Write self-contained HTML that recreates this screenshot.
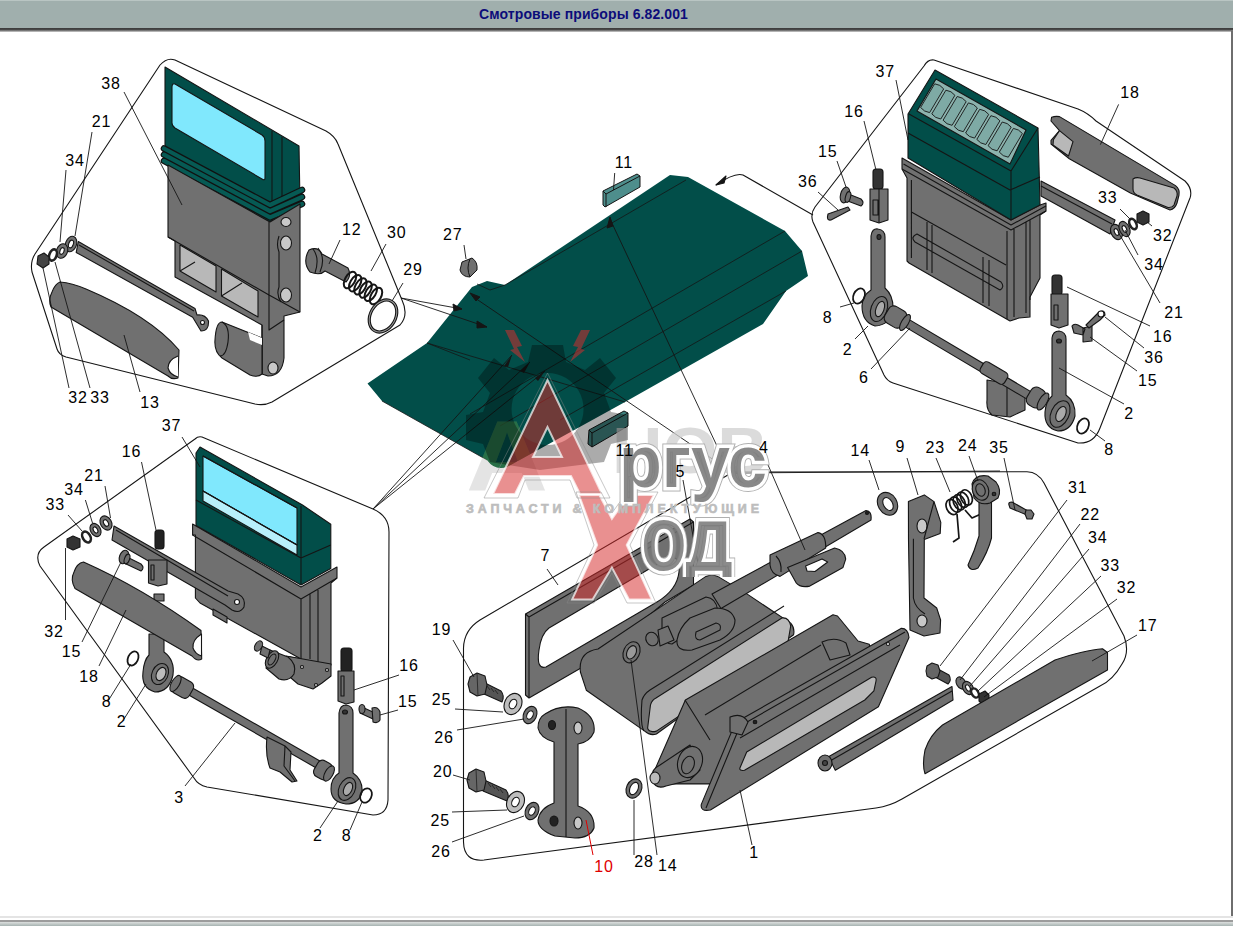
<!DOCTYPE html>
<html><head><meta charset="utf-8">
<style>
html,body{margin:0;padding:0;width:1233px;height:926px;overflow:hidden;background:#fff;}
#bar{position:absolute;left:0;top:0;width:1233px;height:28px;background:#a0afad;border-top:1px solid #b9c5c3;box-sizing:border-box;}
#bar span{position:absolute;left:479px;top:5px;font:bold 14px "Liberation Sans",sans-serif;color:#0c0c7a;letter-spacing:0.1px;white-space:nowrap;}
#barline{position:absolute;left:0;top:28px;width:1233px;height:4px;background:linear-gradient(#3a3a3a,#4a4a4a 45%,#8a8a8a 70%,#d0d0d0);}
svg{position:absolute;left:0;top:0;}
</style></head><body>
<div id="bar"><span>Смотровые приборы 6.82.001</span></div>
<div id="barline"></div>
<svg width="1233" height="926" viewBox="0 0 1233 926" font-family="Liberation Sans, sans-serif">
<!-- frame -->
<rect x="1231" y="31" width="2" height="886" fill="#6e6e6e"/>
<rect x="0" y="916" width="1233" height="2" fill="#e4e4e4"/>
<rect x="0" y="918" width="1233" height="2" fill="#ffffff"/>
<rect x="0" y="920" width="1233" height="2" fill="#9c9c9c"/>
<defs><linearGradient id="bg1" x1="0" y1="0" x2="0" y2="1"><stop offset="0" stop-color="#dcdfde"/><stop offset="1" stop-color="#a6b3b1"/></linearGradient></defs>
<rect x="0" y="922" width="1233" height="4" fill="url(#bg1)"/>


<!-- ===== CENTRAL BODY ===== -->
<g id="E" stroke="#151515" stroke-width="1" stroke-linejoin="round">
<path fill="#024e49" stroke="none" d="M367.5,383.5 L427,343 L472,287 L487,281 L505,285 L670,175 L688,177 L785,231 L802,251 L808,276 L786,291 L763,324 L625,402 L507,467 Q495,471 487,460 L382,401 Z"/>
<path fill="none" stroke-width="0.8" d="M477,284 L490,290 L505,285 M505,285 L686,180 M427,343 L625,402 M382,401 L487,460 M785,231 L470,414 M802,251 L500,426 M786,291 L560,420 M427,343 L470,360"/>
<path fill="none" stroke-width="0.9" d="M610,219 L733,480 M472,296 L733,473 M733,473 L1000,471"/>
<path fill="#151515" d="M610,217 L607,228 L613,226 Z M470,293 L480,297 L476,301 Z"/>
<!-- part 11 top -->
<path fill="#4e8e8c" d="M603,191 L637,174 L640,176 L640,187 L605,207 L603,205 Z"/>
<path fill="none" d="M603,191 L606,194 L640,176 M606,194 L606,207"/>
<path fill="none" stroke-width="0.9" d="M614.7,173 L613.5,190"/>
<!-- part 27 -->
<path fill="#707070" d="M462,262 L472,258 Q478,262 477,270 L470,277 Q462,277 460,270 Z"/>
<path fill="none" d="M470,259 Q466,268 470,277"/>
<path fill="none" stroke-width="0.9" d="M464,245 L466,259"/>
<!-- arrows from group A -->
<path fill="none" stroke-width="0.9" d="M401,298 L462,309 M401,298 L487,327"/>
<path fill="#151515" d="M462,309 L453,304 L454,311 Z M487,327 L477,321 L477,328 Z"/>
<!-- part 11 lower -->
<path fill="#3f7f7d" d="M589,430 L624,411 L628,413 L628,426 L592,447 L588,444 Z"/>
<path fill="none" d="M589,430 L592,433 L628,413 M592,433 L592,447"/>
</g>
<!-- ===== GROUP A (top-left) ===== -->
<g id="A" stroke="#151515" stroke-width="1.1" stroke-linejoin="round">
<path fill="none" d="M175,60 L326,131 Q335,136 338,144 L402,300 Q409,315 400,325 L272,402 Q264,406 255,404 L66,357 Q59,355 57,349 L32,272 Q30,262 35,254 L160,65 Q167,57 175,60 Z"/>
<!-- box 38 teal -->
<path fill="#024e49" d="M165,67 L299,146 L300,204 L270,222 L165,163 Z"/>
<path fill="#80e8fd" d="M175,84 L262,135 Q265,137 265,141 L265,178 Q265,181 262,179 L175,128 Q172,126 172,123 L172,87 Q172,83 175,84 Z"/>
<path fill="none" d="M272,131 L272,222 M282,137 L282,216"/>
<path fill="none" stroke="#111" stroke-width="6.6" stroke-linecap="round" d="M164,148.5 L270,205.0 L302,190.0 M164,154.7 L270,211.2 L302,197.0 M164,160.9 L270,217.4 L302,204.0"/>
<path fill="none" stroke="#065a54" stroke-width="4.2" stroke-linecap="round" d="M164,148.5 L270,205.0 L302,190.0 M164,154.7 L270,211.2 L302,197.0 M164,160.9 L270,217.4 L302,204.0"/>
<!-- gray body -->
<path fill="#707070" d="M168,165 L270,222 L300,204 L300,312 L284,316 L284,358 Q282,376 268,376 L262,374 L262,325 L175,277 L175,241 L168,237 Z"/>
<path fill="none" d="M168,237 L269,295 L269,222 M269,295 L300,312"/>
<path fill="#b8b8b8" d="M180,245 L216,266 L216,292 L180,271 Z M221.5,269 L258,291 L258,317 L221.5,296 Z"/>
<path fill="none" d="M180,271 L195,262 M221.5,296 L242,283"/>
<path fill="none" d="M262,325 L262,374 M269,295 L269,330 L284,320"/>
<ellipse cx="286" cy="222" rx="5" ry="4.5" fill="#c8c8c8"/>
<ellipse cx="286" cy="243" rx="5.5" ry="7" fill="#c8c8c8"/>
<ellipse cx="286" cy="295" rx="5.5" ry="7" fill="#c8c8c8"/>
<path fill="none" d="M279,236 Q276,245 279,252 L279,287 Q276,295 281,302"/>
<ellipse cx="273" cy="368" rx="5" ry="6" fill="#c8c8c8"/>
<!-- cylinder -->
<path fill="#707070" d="M222,322 L262,338 L262,374 Q258,378 250,375 L222,358 Q214,352 215,340 Q216,322 222,322 Z"/>
<path fill="none" d="M222,322 Q230,326 228,342 Q226,356 220,356"/>
<path fill="#fff" stroke="none" d="M248,332 L262,338 L262,345 L250,340 Z"/>
<!-- rod 21 -->
<path fill="#707070" d="M78.3,241.6 L195,308.5 L197,315 Q205,314 208.5,321 Q209,331 201,331 L192.7,317.2 L76.2,252.4 Z"/>
<ellipse cx="71" cy="244" rx="5.5" ry="8" fill="#707070" transform="rotate(20 71 244)"/>
<ellipse cx="71" cy="244" rx="2.3" ry="4" fill="#fff" transform="rotate(20 71 244)"/>
<circle cx="202.5" cy="322.5" r="2" fill="#fff"/>
<path fill="none" d="M79,245 L194,311"/>
<!-- washers -->
<ellipse cx="62" cy="251" rx="5.5" ry="7.5" fill="#707070" transform="rotate(20 62 251)"/>
<ellipse cx="62" cy="251" rx="2" ry="3.5" fill="#fff" transform="rotate(20 62 251)"/>
<ellipse cx="53" cy="255" rx="3.6" ry="5.8" fill="#fff" stroke="#222" stroke-width="2.6" transform="rotate(20 53 255)"/>
<path fill="#444" d="M38,256 L44,253 L49,257 L49,264 L43,268 L37,264 Z"/>
<!-- handle 13 -->
<path fill="#707070" d="M60,282 Q72,283 86,289 Q150,316 179,350 L178,378 Q172,380 168,376 L51,307 Q48,300 52,292 Q55,284 60,282 Z"/>
<path fill="#fff" d="M178,356 Q168,360 168,368 Q170,375 178,377" />
<!-- bolt 12 -->
<path fill="#707070" d="M309,250 Q318,246 322,254 L348,268 Q352,276 346,282 L325,271 Q320,276 310,272 Q302,262 309,250 Z"/>
<path fill="none" d="M313,249 Q320,258 315,273 M318,248 Q326,258 320,272"/>
<!-- spring 30 -->
<g fill="none" stroke-width="2">
<ellipse cx="350.0" cy="280.0" rx="5" ry="9" transform="rotate(30 350.0 280.0)"/>
<ellipse cx="355.2" cy="283.2" rx="5" ry="9" transform="rotate(30 355.2 283.2)"/>
<ellipse cx="360.4" cy="286.4" rx="5" ry="9" transform="rotate(30 360.4 286.4)"/>
<ellipse cx="365.6" cy="289.6" rx="5" ry="9" transform="rotate(30 365.6 289.6)"/>
<ellipse cx="370.8" cy="292.8" rx="5" ry="9" transform="rotate(30 370.8 292.8)"/>
<ellipse cx="376.0" cy="296.0" rx="5" ry="9" transform="rotate(30 376.0 296.0)"/>
</g>
<!-- ring 29 -->
<ellipse cx="383" cy="316" rx="12.5" ry="17" fill="none" stroke-width="3.2" transform="rotate(30 383 316)"/>
<ellipse cx="383" cy="316" rx="12.5" ry="17" fill="none" stroke="#999" stroke-width="1" transform="rotate(30 383 316)"/>
<!-- leaders -->
<path fill="none" stroke-width="0.9" d="M124,92 L182,205 M92,132 L75,236 M66,170 L60,242 M43,268 L69,388 M55,262 L90,388 M124,335 L140,392 M340,240 L329,264 M386,244 L371,271 M403,283 L392,301"/>
</g>

<!-- ===== GROUP B (top-right) ===== -->
<g id="B" stroke="#151515" stroke-width="1.1" stroke-linejoin="round">
<path fill="none" d="M934,60 L1078,109 Q1088,113 1096,121 L1185,181 Q1193,189 1190,198 L1100,428 Q1094,444 1078,443 L893,383 Q887,381 884,375 L813,222 Q810,214 815,207 L924,66 Q928,59 934,60 Z"/>
<path fill="none" d="M813,215 L743,175 Q735,172 716,185"/>
<path fill="#151515" d="M716,185 L726,176 L724,183 Z"/>
<!-- box 37 gray body -->
<path fill="#707070" d="M902,158 L1011,220 L1040,205 L1046,203 L1046,211 L1040,215 L1040,278 L1030,297 L1030,317 L1019,318 L1010,321 L909,263 L907,261 L907,178 L902,169 Z"/>
<path fill="none" d="M902,169 L1011,230 L1046,211 M903.5,164 L1011,225 L1046,206 M911.4,180 L911.4,258 M1007,231 L1007,319 M1014,229 L1014,317 M1026,222 L1026,313 M1030,220 L1030,300 M911.4,212 L1006,265 M927,222 L927,270 M932,225 L932,273 M983,257 L983,303 M989,260 L989,306 M917,234 L1001,282 Q1005,287 1000,290 L915,242 Q910,237 917,234 Z"/>
<!-- box 37 teal -->
<path fill="#024e49" d="M908,114 L935,70 L1038,128 L1040,205 L1011,220 L908,158 Z"/>
<path fill="none" d="M1011,171 L1011,220 M909,114 L1011,171 L1038,128 M908,133 L1010,190 L1040,177"/>
<path fill="#8cb3ae" d="M936,79 L1026,130 L1010,164 L917,111 Z"/>
<g fill="#7eaaa5" stroke-width="0.9">
<path d="M934.7,83.8 Q940.3,84.4 943.7,88.9 L929.6,112.6 Q924.0,111.9 920.6,107.5 Z"/>
<path d="M945.9,90.2 Q951.5,90.8 954.9,95.3 L940.8,119.0 Q935.2,118.3 931.8,113.9 Z"/>
<path d="M957.2,96.5 Q962.8,97.2 966.2,101.6 L952.1,125.3 Q946.5,124.7 943.1,120.2 Z"/>
<path d="M968.4,102.9 Q974.0,103.6 977.4,108.0 L963.3,131.7 Q957.7,131.1 954.3,126.6 Z"/>
<path d="M979.7,109.3 Q985.3,109.9 988.7,114.4 L974.6,138.1 Q969.0,137.4 965.6,133.0 Z"/>
<path d="M990.9,115.7 Q996.5,116.3 999.9,120.8 L985.8,144.5 Q980.2,143.8 976.8,139.4 Z"/>
<path d="M1002.2,122.0 Q1007.8,122.7 1011.2,127.1 L997.1,150.8 Q991.5,150.2 988.1,145.7 Z"/>
<path d="M1013.4,128.4 Q1019.0,129.1 1022.4,133.5 L1008.3,157.2 Q1002.7,156.6 999.3,152.1 Z"/>
</g>
<!-- handle 18 -->
<path fill="#707070" d="M1051.6,117.2 Q1055,116 1059.5,116.6 L1175.5,185.6 Q1180,189 1179,195 L1177,203 Q1175,209 1170,210 L1130.4,192.9 L1069.3,158.7 L1051,144 L1051,140.4 L1059.5,130.6 L1051,121 Z"/>
<path fill="#b8b8b8" d="M1053.4,139.8 L1059.5,130.6 L1073,141.6 L1068.5,156 L1053,145 Z"/>
<path fill="#b8b8b8" d="M1133,179 Q1136,177 1140,178 L1174,188 Q1178,191 1177,196 L1174,205 Q1172,208 1168,207.5 L1137,195 Q1133,193 1133,189 Z"/>
<!-- rod 21 -->
<path fill="#707070" d="M1041,181 L1115,220 L1110,234 L1041,196 Z"/>
<path fill="none" d="M1041,186 L1112,224"/>
<ellipse cx="1116.5" cy="232" rx="5.5" ry="8" fill="#707070" transform="rotate(-25 1116.5 232)"/>
<ellipse cx="1116.5" cy="232" rx="2" ry="3.5" fill="#fff" transform="rotate(-25 1116.5 232)"/>
<ellipse cx="1124.5" cy="229" rx="5" ry="8" fill="#707070" transform="rotate(-25 1124.5 229)"/>
<ellipse cx="1124.5" cy="229" rx="2" ry="3.5" fill="#fff" transform="rotate(-25 1124.5 229)"/>
<ellipse cx="1133" cy="224" rx="3.3" ry="5.5" fill="#fff" stroke="#222" stroke-width="2.6" transform="rotate(-25 1133 224)"/>
<path fill="#333" d="M1137,214 L1143,211 L1149,214 L1149,222 L1143,225 L1137,222 Z"/>
<!-- clevis 16 upper -->
<rect x="873" y="169" width="10" height="20" rx="3" fill="#333"/>
<path fill="#707070" d="M870,189 L888,189 L888,220 L879,223 L870,220 Z"/>
<path fill="none" d="M873,200 L878,200 L878,215 L873,215 Z M879,189 L879,223"/>
<!-- bolt 15 upper -->
<path fill="#707070" d="M846,193 L861,199 Q865,203 861,206 L845,200 Z"/>
<ellipse cx="845" cy="195" rx="4.5" ry="8" fill="#707070" transform="rotate(15 845 195)"/>
<ellipse cx="848" cy="197" rx="2.5" ry="5.5" fill="#707070" transform="rotate(15 848 197)"/>
<!-- pin 36 upper -->
<path fill="#707070" d="M828,214 L848,207 L850,210 L831,220 Q826,221 828,214 Z"/>
<!-- lever 2 upper -->
<path fill="#707070" d="M871,236 Q872,228 878,229 Q885,230 885,237 L885,288 Q894,296 893,311 Q890,325 875,326 Q862,322 862,306 Q862,296 871,290 Z"/>
<ellipse cx="879" cy="237" rx="2" ry="2.5" fill="#333"/>
<ellipse cx="879" cy="309" rx="8" ry="13" fill="#707070" transform="rotate(20 879 309)"/>
<ellipse cx="880" cy="309" rx="4" ry="8" fill="#aaa" transform="rotate(20 880 309)"/>
<ellipse cx="859" cy="296" rx="5.5" ry="8" fill="none" stroke-width="1.8" transform="rotate(25 859 296)"/>
<!-- shaft 6 -->
<path fill="#707070" d="M987,380 L1010,384 L1025,394 L1025,410 L1010,417 L992,415 Q986,410 987,400 Z"/>
<path fill="none" d="M1007,384 L1007,416"/>
<line x1="900" y1="319" x2="1030" y2="396" stroke="#151515" stroke-width="9.5" stroke-linecap="round"/>
<line x1="900" y1="319" x2="1030" y2="396" stroke="#707070" stroke-width="7.3" stroke-linecap="round"/>
<rect x="885.5" y="307.5" width="20" height="19" rx="5.7" fill="#707070" transform="rotate(30.6 895.5 317)"/>
<ellipse cx="905" cy="322.5" rx="3.5" ry="9" fill="#707070" transform="rotate(30.6 905 322.5)"/>
<rect x="980.0" y="366.5" width="28" height="13" rx="3.9" fill="#707070" transform="rotate(30.6 994 373)"/>
<rect x="1028.0" y="387.5" width="16" height="20" rx="6.0" fill="#707070" transform="rotate(30.6 1036 397.5)"/>
<ellipse cx="1043" cy="401.5" rx="4" ry="9.5" fill="#707070" transform="rotate(30.6 1043 401.5)"/>
<!-- clevis 16 lower -->
<rect x="1052" y="275" width="10" height="20" rx="3" fill="#333"/>
<path fill="#707070" d="M1051,294 L1068,294 L1068,325 L1059,328 L1051,325 Z"/>
<path fill="none" d="M1054,305 L1058,305 L1058,320 L1054,320 Z"/>
<!-- 15 / 36 lower -->
<path fill="#707070" d="M1083,328 L1092,326 L1092,341 L1083,342 Z M1072,326 Q1074,323 1078,325 L1085,329 L1083,335 L1074,333 Z"/>
<path fill="#707070" d="M1086,325 L1099,312 Q1105,309 1105,315 L1100,320 L1089,328 Z"/>
<ellipse cx="1101" cy="314" rx="3" ry="3" fill="#fff"/>
<!-- lever 2 lower -->
<path fill="#707070" d="M1052,338 Q1053,331 1059,331 Q1066,332 1066,339 L1066,395 Q1076,402 1075,416 Q1071,431 1058,431 Q1044,428 1045,412 Q1046,401 1052,396 Z"/>
<ellipse cx="1059" cy="341" rx="2.5" ry="2" fill="#333"/>
<ellipse cx="1060" cy="414" rx="9" ry="14" fill="#707070" transform="rotate(25 1060 414)"/>
<ellipse cx="1061" cy="414" rx="4.5" ry="8" fill="#aaa" transform="rotate(25 1061 414)"/>
<ellipse cx="1083" cy="426" rx="5.5" ry="8" fill="none" stroke-width="1.8" transform="rotate(25 1083 426)"/>
<!-- leaders -->
<path fill="none" stroke-width="0.9" d="M896,80 L908,140 M864,121 L876,170 M837,161 L846,187 M818,192 L838,210 M840,307 L854,303 M855,339 L868,326 M871,369 L910,328 M1118.6,104.4 L1100.4,144.6 M1120,209 L1131,220 M1152,226 L1147,222 M1138,255 L1125,230 M1160,303 L1118,232 M1150,326 L1067,287 M1144,348 L1105,317 M1137,371 L1090,337 M1124,404 L1059,368 M1105,441 L1090,430"/>
</g>

<!-- ===== GROUP C (bottom-left) ===== -->
<g id="C" stroke="#151515" stroke-width="1.1" stroke-linejoin="round">
<path fill="none" d="M202,437 L373,509 Q389,516 389,532 L388,800 Q387,815 373,815 L207,787 Q198,785 194,778 L40,566 Q34,554 44,547 L195,439 Q198,436 202,437 Z"/>
<path fill="none" stroke-width="0.9" d="M373,509 L512,355 M373,509 L530,362 M373,509 L545,371"/>
<path fill="#151515" stroke="none" d="M512,355 L504,366 L508,367 Z M530,362 L520,371 L524,373 Z M545,371 L535,378 L538,381 Z"/>
<!-- box 37 BL gray body -->
<path fill="#707070" d="M192.6,524 L301,587 L337,567 L337,578 L331,583 L331,665 L318,665 L290,657 L301,659 L200,603 L195.4,598 L195.4,535 L192.6,535 Z"/>
<path fill="none" d="M192.6,535 L301,599 L337,578 M301,599 L301,659 M310,594 L310,659 M318,590 L318,662"/>
<path fill="#707070" d="M213,609 L227,617 L227,623 L213,615 Z"/>
<!-- mechanism under box -->
<path fill="#707070" d="M286,656 L331,664 L331,676 L322,683 L313,689 L298,684 L284,672 Z"/>
<circle cx="316" cy="685" r="1.5" fill="#ccc"/>
<circle cx="327" cy="670" r="1.5" fill="#ccc"/>
<circle cx="302" cy="667" r="1.5" fill="#ccc"/>
<path fill="#707070" d="M270,650 L288,657 Q297,664 294,674 Q289,682 279,679 L266,668 Z"/>
<ellipse cx="272" cy="659.5" rx="5.5" ry="9.5" fill="#707070" transform="rotate(30 272 659.5)"/>
<ellipse cx="272" cy="659.5" rx="3" ry="6" fill="#707070" transform="rotate(30 272 659.5)"/>
<path fill="#707070" d="M262,646 L270,650 L268,658 L260,654 Z"/>
<ellipse cx="258.5" cy="646" rx="3.5" ry="5.5" fill="#707070" transform="rotate(30 258.5 646)"/>
<!-- box 37 BL teal -->
<path fill="#024e49" d="M200,447 L302.5,505 L330.8,524.3 L330.8,568.4 L301,585 L196,525.5 L196,453 Z"/>
<path fill="#80e8fd" d="M203,456 L297,508 L297,545 L203,491 Z"/>
<path fill="#b8f0fb" d="M203,491 L297,545 L297,555 L203,501 Z"/>
<path fill="none" d="M196,500 L301,558 L330.8,545 M301,506 L301,585 M203,491 L297,545 M203,456 L297,508"/>
<!-- rod 21 -->
<path fill="#707070" d="M114,526 L228,591 L238,594 Q246,598 244,607 Q240,614 232,610 L225,605 L112,540 Z"/>
<circle cx="237" cy="602" r="2.5" fill="#fff"/>
<path fill="none" d="M116,530 L228,596"/>
<ellipse cx="106" cy="523" rx="5.5" ry="7.5" fill="#707070" transform="rotate(-30 106 523)"/>
<ellipse cx="106" cy="523" rx="2.2" ry="3.5" fill="#fff" transform="rotate(-30 106 523)"/>
<ellipse cx="95.5" cy="530" rx="5" ry="7" fill="#707070" transform="rotate(-30 95.5 530)"/>
<ellipse cx="95.5" cy="530" rx="2" ry="3.3" fill="#fff" transform="rotate(-30 95.5 530)"/>
<ellipse cx="86.5" cy="537" rx="3.8" ry="5.8" fill="#fff" stroke="#222" stroke-width="2.6" transform="rotate(-30 86.5 537)"/>
<path fill="#333" d="M67,539 L73,536 L80,539 L80,547 L73,550 L67,547 Z"/>
<!-- clevis 16 BL -->
<rect x="155" y="530" width="9" height="19" rx="3" fill="#222"/>
<path fill="#707070" d="M148.5,560 L167,560 L167,584 L158,586 L148.5,583 Z"/>
<path fill="none" d="M151,565 L154,565 L154,580 L151,580 Z"/>
<!-- bolt 15 BL -->
<path fill="#707070" d="M125,556 L141,564 Q145,568 141,571 L124,563 Z"/>
<ellipse cx="124" cy="557" rx="4.5" ry="7" fill="#707070" transform="rotate(20 124 557)"/>
<ellipse cx="127" cy="559" rx="2.5" ry="5" fill="#707070" transform="rotate(20 127 559)"/>
<!-- lever 2 BL -->
<path fill="#707070" d="M149,634 L164,634 L164,652 Q175,660 173,675 Q169,692 155,692 Q141,688 143,672 Q144,660 149,655 Z"/>
<ellipse cx="160" cy="674" rx="8" ry="11" fill="#707070" transform="rotate(25 160 674)"/>
<ellipse cx="161" cy="674" rx="4.5" ry="7" fill="#bbb" transform="rotate(25 161 674)"/>
<path fill="#707070" d="M154,594 L164,594 L164,601 L154,601 Z"/>
<ellipse cx="133" cy="658.5" rx="5" ry="7.5" fill="none" stroke-width="1.8" transform="rotate(25 133 658.5)"/>
<!-- handle 18 BL -->
<path fill="#707070" d="M83.5,562 Q142,588 201,630.5 L201.7,659 Q197,662 192,656 L75,588.4 Q70,580 74,572 Q77,563 83.5,562 Z"/>
<path fill="#fff" d="M201.5,634 Q192,640 193,648 Q195,654 201.5,656 Z"/>
<!-- shaft 3 -->
<line x1="188" y1="690" x2="326" y2="769" stroke="#151515" stroke-width="9" stroke-linecap="round"/>
<line x1="188" y1="690" x2="326" y2="769" stroke="#707070" stroke-width="6.8" stroke-linecap="round"/>
<rect x="172.5" y="678.5" width="20" height="18" rx="5.4" fill="#707070" transform="rotate(29.8 182.5 687.5)"/>
<ellipse cx="175.5" cy="683.5" rx="4" ry="9" fill="#707070" transform="rotate(29.8 175.5 683.5)"/>
<path fill="#707070" d="M267,737 L285,746 L291,752 L290,770 L297,781 L292,782 L280,772 L270,768 Q265,755 267,737 Z"/>
<path fill="none" d="M285,746 L284,766 L295,781"/>
<rect x="315.0" y="761.0" width="16" height="18" rx="5.4" fill="#707070" transform="rotate(29.8 323 770)"/>
<ellipse cx="329" cy="773.5" rx="4" ry="8.5" fill="#707070" transform="rotate(29.8 329 773.5)"/>
<!-- clevis 16 C right + lever 2 right -->
<rect x="341" y="648" width="11" height="24" rx="3" fill="#222"/>
<path fill="#707070" d="M338,671 L354,671 L354,702 L346,704 L338,701 Z"/>
<path fill="none" d="M341,676 L344,676 L344,696 L341,696 Z"/>
<path fill="#707070" d="M339,713 Q340,705 346,705 Q353,706 353,713 L353,773 Q363,780 362,792 Q359,804 346,804 Q331,802 331,789 Q331,778 339,773 Z"/>
<ellipse cx="345" cy="712" rx="2.5" ry="2" fill="#333"/>
<ellipse cx="347" cy="789" rx="8" ry="12" fill="#707070" transform="rotate(25 347 789)"/>
<ellipse cx="348" cy="789" rx="4" ry="7" fill="#aaa" transform="rotate(25 348 789)"/>
<ellipse cx="366" cy="795.5" rx="5.5" ry="7.5" fill="none" stroke-width="1.8" transform="rotate(25 366 795.5)"/>
<path fill="#707070" d="M362,707 L375,713 L373,719 L360,713 Z"/>
<ellipse cx="362" cy="709" rx="3" ry="4.5" fill="#707070"/>
<path fill="#707070" d="M372,708 Q378,706 380,712 L380,720 Q378,724 373,722 Z"/>
<!-- leaders -->
<path fill="none" stroke-width="0.9" d="M182,437 L200,467 M141.5,462 L156,530 M105,486 L110.5,518 M85.4,500 L92.5,523 M68,515 L82,531 M65.5,548 L65.5,620 M82,642 L121,562 M99,666 L126,610 M108,701 L131,664 M124,719 L146,684 M185,786 L235,723 M320,828 L338,801 M350,830 L362,802 M399,675 L354,690 M398,710 L380,715"/>
</g>

<!-- ===== GROUP D (bottom-center) ===== -->
<g id="D" stroke="#151515" stroke-width="1.1" stroke-linejoin="round">
<path fill="none" d="M463.5,648 Q464,630 480,620 L733,472 L1027,471.7 Q1038,472 1044,483 L1124,636 Q1130,652 1122,664 Q1113,680 1100,686 L902,799 Q890,806 876,808 L484,860 Q464,862 463.5,842 Z"/>
<!-- frame 7 -->
<path fill="#707070" fill-rule="evenodd" d="M525.5,614 L690,519 L693.5,522 L693.5,585 L665,602 L600,657 L529,698 L525.5,695 Z M549,628 L666,559 Q681,553 679,572 Q677,590 657,602 L546,667 Q536,670 539,650 Q541,634 549,628 Z"/>
<path fill="none" d="M525.5,614 L529,617 L693.5,522 M529,617 L529,698"/>
<!-- body 5 -->
<path fill="#707070" d="M580.4,672 Q578,652 598,649 L706,576.4 Q712,574 717.7,576.4 L746.9,593.9 L790.7,623.1 Q795,628 793.6,634.7 L656.4,734 Q650,736 644.7,731.1 L586.3,690.2 Z"/>
<path fill="#b8b8b8" d="M647.6,728.2 L650.5,704.8 Q652,700 656,698 L781.9,618 Q789,617 790.7,626 L787.7,643.5 L656.4,731.1 Q649,733 647.6,728.2 Z"/>
<path fill="none" d="M644,731 Q640,725 642,700 Q644,694 650,690 L784,606"/>
<!-- washer 28 on body -->
<ellipse cx="631.5" cy="652.3" rx="8" ry="11" fill="#707070" transform="rotate(25 631.5 652.3)"/>
<ellipse cx="631.5" cy="652.3" rx="4.5" ry="7" fill="#999" transform="rotate(25 631.5 652.3)"/>
<!-- nipple + handle on body -->
<path fill="#707070" d="M662,618 L706,597 Q716,598 717.7,610 L690,632 L672,644 Q664,644 662,632 Z"/>
<ellipse cx="652" cy="639" rx="6" ry="7" fill="#707070" transform="rotate(-30 652 639)"/>
<path fill="#707070" d="M658,630 L668,626 L674,640 L660,646 Z"/>
<path fill="#707070" fill-rule="evenodd" d="M690,618 L715,608 Q732,608 735,620 Q735,632 720,640 L692,650 Q676,652 677,640 Q679,628 690,618 Z M696,632 L716,623 Q722,624 720,630 L700,640 Q694,640 696,632 Z"/>
<!-- shaft 4 -->
<path fill="#707070" d="M712,594 L866,510.5 Q872,511 871,520 L721,608.5 Z"/>
<path fill="#707070" d="M770,555 L818,532.6 Q826,534 825.7,548 L780,576.4 Q771,574 770,565 Z"/>
<path fill="none" d="M776,556 Q782,562 781,572"/>
<path fill="#707070" d="M787.6,567.4 L834.6,548 Q845,550 845.7,559.1 L843,567.4 L809.8,586.1 Q800,588 796,582.6 Z"/>
<path fill="#fff" d="M805.6,566 L822,559 L827.7,562 L815,571.5 L807,571 Z"/>
<circle cx="867" cy="513" r="1.5" fill="#222"/>
<!-- washer 14 -->
<ellipse cx="887.5" cy="503.8" rx="9.5" ry="12" fill="#707070" transform="rotate(-30 887.5 503.8)"/>
<ellipse cx="888" cy="504" rx="4.5" ry="7" fill="#fff" transform="rotate(-30 888 504)"/>
<!-- link 9 -->
<path fill="#707070" d="M908.4,501.6 L924.3,494.9 L934,501.6 L940.8,522.4 L940.2,533.4 L924.3,539.5 L924,598 L936.7,608 L940.6,620 L940,633 L924,636 L910,630 L908.5,540 Z"/>
<ellipse cx="922" cy="526" rx="5" ry="7" fill="#c8c8c8"/>
<ellipse cx="922" cy="621" rx="5" ry="6" fill="#c8c8c8"/>
<path fill="none" d="M913.4,538.8 L913.4,598 Q915,608 925,614 M924,539 L934,501.6"/>
<!-- spring 23 -->
<g fill="none" stroke-width="1.7">
<ellipse cx="952.0" cy="507.0" rx="5.5" ry="8" transform="rotate(-25 952.0 507.0)"/>
<ellipse cx="955.6" cy="504.6" rx="5.5" ry="8" transform="rotate(-25 955.6 504.6)"/>
<ellipse cx="959.2" cy="502.2" rx="5.5" ry="8" transform="rotate(-25 959.2 502.2)"/>
<ellipse cx="962.8" cy="499.8" rx="5.5" ry="8" transform="rotate(-25 962.8 499.8)"/>
<ellipse cx="966.4" cy="497.4" rx="5.5" ry="8" transform="rotate(-25 966.4 497.4)"/>
<path d="M957,514 L959,538 L953,542 M965,510 L972,518 L981,514"/>
</g>
<!-- lever 24 -->
<path fill="#707070" d="M979,500 L991.5,500 L991.5,538 Q988,552 978,568 Q970,572 968,565 Q975,550 979,536 Z"/>
<path fill="#707070" d="M972,484 Q975,474 988,476 L996,482 Q1002,490 998,498 L990,503 Q980,506 974,498 Z"/>
<ellipse cx="980.5" cy="490" rx="8" ry="10.5" fill="#707070" transform="rotate(-20 980.5 490)"/>
<ellipse cx="980.5" cy="490" rx="4.5" ry="6.5" fill="#707070" transform="rotate(-20 980.5 490)"/>
<circle cx="994" cy="494" r="1.8" fill="#333"/>
<!-- pin 35 -->
<path fill="#707070" d="M1009,505 Q1008,502 1012,502 L1028,511 L1027,515 L1010,508 Z"/>
<path fill="#707070" d="M1026,510 L1031,510 L1034,514 L1032,519 L1027,519 L1025,514 Z"/>
<!-- link 10 -->
<path fill="#707070" d="M545,714 Q560,704 578,708 Q596,716 594,732 Q590,742 578,744 L578,806 Q595,812 594,828 Q590,838 575,838 L555,836 Q538,830 538,820 Q540,808 554,803 L554,742 Q540,738 538,728 Q538,718 545,714 Z"/>
<path fill="none" d="M566,709 L566,742 M566,806 L566,837 M566,742 L566,806"/>
<ellipse cx="552" cy="725" rx="3.5" ry="4.5" fill="#222"/>
<ellipse cx="578" cy="728" rx="4" ry="6" fill="#c8c8c8"/>
<ellipse cx="554" cy="821" rx="4" ry="5" fill="#222"/>
<ellipse cx="578" cy="823" rx="4" ry="6" fill="#c8c8c8"/>
<!-- bolts 19, 20 and washers -->
<path fill="#555" d="M483,682 L501,691 Q505,696 502,702 L484,694 Z"/>
<path fill="#666" d="M470,677 L477,673 L485,676 L487,685 L485,694 L477,696 L470,692 L468,684 Z"/>
<path fill="none" stroke-width="0.7" d="M477,673 L478,696 M487,686 L490,690 M491,688 L494,692 M495,690 L498,694"/>
<path fill="#555" d="M482,779 L506,790 Q510,795 507,801 L483,791 Z"/>
<path fill="#666" d="M469,773 L476,769 L484,772 L486,781 L484,790 L476,792 L469,788 L467,780 Z"/>
<path fill="none" stroke-width="0.7" d="M476,769 L477,792 M488,783 L491,787 M492,785 L495,789 M496,787 L499,791 M500,789 L503,793"/>
<ellipse cx="513" cy="704" rx="8.5" ry="11" fill="#bdbdbd" transform="rotate(25 513 704)"/>
<ellipse cx="513" cy="704" rx="3.5" ry="5" fill="#fff" transform="rotate(25 513 704)"/>
<ellipse cx="530" cy="715" rx="6.5" ry="9" fill="#707070" transform="rotate(25 530 715)"/>
<ellipse cx="530" cy="715" rx="3" ry="4.5" fill="#fff" transform="rotate(25 530 715)"/>
<ellipse cx="515.5" cy="802" rx="8.5" ry="11" fill="#bdbdbd" transform="rotate(25 515.5 802)"/>
<ellipse cx="515.5" cy="802" rx="3.5" ry="5" fill="#fff" transform="rotate(25 515.5 802)"/>
<ellipse cx="532" cy="811" rx="6.5" ry="9" fill="#707070" transform="rotate(25 532 811)"/>
<ellipse cx="532" cy="811" rx="3" ry="4.5" fill="#fff" transform="rotate(25 532 811)"/>
<!-- washer 28 -->
<ellipse cx="634" cy="788.5" rx="7.5" ry="10" fill="#707070" transform="rotate(25 634 788.5)"/>
<ellipse cx="634" cy="788.5" rx="4" ry="6.5" fill="#fff" transform="rotate(25 634 788.5)"/>
<!-- prism body behind plate 1 -->
<path fill="#707070" d="M653.6,772.6 L685.4,700 L833,614.8 L837.5,616 L858,641 L869.3,644.3 L878,690 L720,783.9 L660.4,783.9 Z"/>
<path fill="#707070" d="M660,765 Q650,770 652,780 Q656,790 666,786 L690,780 L700,770 L690,745 Z"/>
<ellipse cx="655" cy="778" rx="5" ry="6" fill="#bbb"/>
<ellipse cx="690" cy="762" rx="12" ry="16" fill="#707070" transform="rotate(20 690 762)"/>
<ellipse cx="688" cy="765" rx="6" ry="9" fill="#707070" transform="rotate(20 688 765)"/>
<path fill="#707070" d="M822,642 Q835,636 846,643 L850,655 L830,660 Z"/>
<path fill="none" d="M705,715 L821,645 M685,700 L710,740"/>
<!-- plate 1 -->
<path fill="#707070" d="M701.3,804.4 L735.4,722.6 L901,628.4 Q908,628 909,637.5 L878.4,706.7 L710.4,810 Q700,812 701.3,804.4 Z"/>
<path fill="#b8b8b8" d="M739.9,768 L746.7,752 L871.6,677.2 Q877,676 876,681 L873.9,690.8 L864.8,700 L744.5,770.3 Q739,771 739.9,768 Z"/>
<path fill="none" d="M735.4,722.6 L740,726 L905,632 M740,726 L706,808 M740,738 L900,645"/>
<path fill="#707070" d="M730,717 Q742,712 748,722 L742,735 L730,732 Z"/>
<circle cx="755" cy="722" r="1.8" fill="#222"/>
<circle cx="888" cy="644" r="1.5" fill="#fff"/>
<!-- rod 22 -->
<path fill="#707070" d="M828.5,756.7 L952,686.5 L953,700 L835.3,770.3 Z"/>
<path fill="none" d="M830,761 L952,691"/>
<ellipse cx="825" cy="763" rx="7" ry="8" fill="#707070"/>
<circle cx="825" cy="763" r="2.5" fill="#444"/>
<!-- bolt 31 + washers -->
<path fill="#555" d="M936,668 L949,675 Q952,680 948,684 L935,677 Z"/>
<path fill="#666" d="M927,666 L932,663 L938,665 L940,671 L938,677 L932,679 L927,676 L926,671 Z"/>
<ellipse cx="961" cy="683" rx="4.5" ry="6.5" fill="#707070" transform="rotate(-30 961 683)"/>
<ellipse cx="968" cy="688" rx="5" ry="7" fill="#707070" transform="rotate(-30 968 688)"/>
<ellipse cx="968" cy="688" rx="2" ry="3.5" fill="#fff" transform="rotate(-30 968 688)"/>
<ellipse cx="975" cy="693" rx="3.3" ry="5" fill="#fff" stroke="#222" stroke-width="2.4" transform="rotate(-30 975 693)"/>
<path fill="#333" d="M979,694 L985,691 L989,695 L989,702 L983,705 L979,701 Z"/>
<!-- part 17 -->
<path fill="#707070" d="M925,750 Q930,735 942.5,725 L1055,660 Q1085,650 1102.5,648.7 L1107.5,652.5 L1107.5,670 L925,773.7 Q922,765 925,750 Z"/>
<!-- leaders -->
<path fill="none" stroke-width="0.9" d="M453,640 L474,677 M455,709 L503,712 M457,730 L524,719 M453,775 L470,780 M452,812 L507,810 M452,842 L524,816 M547,569 L558,585 M683,480 L700,575 M765,458 L805,550 M869,460 L879,490 M907,458 L918,495 M936,458 L950,492 M969,456 L978,481 M1004,458 L1015,510 M1067,500 L940,666 M1080,524 L960,680 M1089,549 L970,686 M1101,576 L978,691 M1117,599 L984,697 M1137,635 L1092,661 M634,855 L634,800 M657,855 L631,660 M752,845 L740,790"/>
<path fill="none" stroke="#e00000" stroke-width="1" d="M586,820 L593,855"/>
</g>

<!-- ===== WATERMARK ===== -->
<g id="WM">
<!-- light background letters -->
<g fill="#cfcfcf" fill-opacity="0.75" font-family="Liberation Sans, sans-serif" font-weight="bold">
<defs><clipPath id="tealclip"><path d="M367.5,383.5 L427,343 L472,287 L487,281 L505,285 L670,175 L688,177 L785,231 L802,251 L808,276 L786,291 L763,324 L625,402 L507,467 Q495,471 487,460 L382,401 Z"/></clipPath>
<mask id="notteal"><rect x="0" y="0" width="1233" height="926" fill="#fff"/><path d="M367.5,383.5 L427,343 L472,287 L487,281 L505,285 L670,175 L688,177 L785,231 L802,251 L808,276 L786,291 L763,324 L625,402 L507,467 Q495,471 487,460 L382,401 Z" fill="#000"/></mask></defs>
<text x="466" y="491" font-size="100" textLength="82" lengthAdjust="spacingAndGlyphs" mask="url(#notteal)">А</text>
<text x="466" y="491" font-size="100" textLength="82" lengthAdjust="spacingAndGlyphs" clip-path="url(#tealclip)" fill="#2f7a3a" fill-opacity="0.6">А</text>
<text x="612" y="473" font-size="64" textLength="156" lengthAdjust="spacingAndGlyphs">НОВ</text>
</g>
<!-- dark gear -->
<g fill="#000" fill-opacity="0.33">
<path fill-rule="evenodd" d="M532,345 L563,345 L566,362 L585,370 L600,358 L616,378 L604,393 L611,412 L628,415 L628,440 L611,444 L604,462 L540,470 L490,462 L483,444 L466,440 L466,415 L483,412 L490,393 L478,378 L494,358 L509,370 L528,362 Z M547.5,373 A36,36 0 1,0 547.6,373 Z"/>
</g>
<!-- lightning bolts -->
<path fill="#c03030" fill-opacity="0.6" d="M505,330 L514,330 L522,346 L517,347 L525,362 L510,350 L514,349 Z M590,330 L581,330 L573,346 L578,347 L570,362 L585,350 L581,349 Z"/>
<!-- red A and X -->
<g stroke="#ffffff" stroke-opacity="0.7" stroke-width="2" stroke-linejoin="miter">
<path fill="#d42a2a" fill-opacity="0.52" fill-rule="evenodd" d="M547.5,380 L602,494 L580,494 L571,476 L524,476 L515,494 L493,494 Z M547.5,427 L533,457 L562,457 Z"/>
<path fill="#d42a2a" fill-opacity="0.52" d="M579,495 L599.4,495 L611.9,518.8 L629,495 L653.9,495 L626.7,545 L651.7,599.4 L629,599.4 L611.9,567.6 L592.6,599.4 L572.2,599.4 L597.2,545 Z"/>
</g>
<path fill="none" stroke="#888" stroke-opacity="0.6" stroke-width="0.8" d="M547.5,373 L610,498 L577,498 L570,480 L525,480 L518,498 L484,498 Z M576,492 L601,492 L612,513 L627,492 L658,492 L630,545 L656,603 L627,603 L612,573 L594,603 L567,603 L594,545 Z"/>
<!-- ргус / од -->
<g font-family="Liberation Sans, sans-serif" font-weight="bold">
<text x="619" y="487" font-size="74" textLength="148" lengthAdjust="spacingAndGlyphs" fill="none" stroke="#b0b0b0" stroke-width="9">ргус</text>
<text x="619" y="487" font-size="74" textLength="148" lengthAdjust="spacingAndGlyphs" fill="none" stroke="#fff" stroke-width="7">ргус</text>
<text x="619" y="487" font-size="74" textLength="148" lengthAdjust="spacingAndGlyphs" fill="#7c7c7c" fill-opacity="0.9">ргус</text>
<clipPath id="odclip"><rect x="600" y="500" width="200" height="77"/></clipPath>
<g clip-path="url(#odclip)">
<text x="641" y="570" font-size="92" textLength="92" lengthAdjust="spacingAndGlyphs" fill="none" stroke="#b0b0b0" stroke-width="9">од</text>
<text x="641" y="570" font-size="92" textLength="92" lengthAdjust="spacingAndGlyphs" fill="none" stroke="#fff" stroke-width="7">од</text>
<text x="641" y="570" font-size="92" textLength="92" lengthAdjust="spacingAndGlyphs" fill="#777" fill-opacity="0.85">од</text>
</g>
<text x="466" y="512.5" font-size="12.5" textLength="293" lengthAdjust="spacing" fill="#bdbdbd" stroke="#bdbdbd" stroke-width="0.6">ЗАПЧАСТИ &amp; КОМПЛЕКТУЮЩИЕ</text>
</g>
</g>
<g id="labels" font-size="16" fill="#000" letter-spacing="0.9" transform="translate(0,-0.5)">
<text x="101.2" y="89.0">38</text>
<text x="91.7" y="127.5">21</text>
<text x="65.2" y="166.0">34</text>
<text x="68.2" y="403.5">32</text>
<text x="90.2" y="403.5">33</text>
<text x="140.2" y="408.5">13</text>
<text x="341.9" y="235.0">12</text>
<text x="386.9" y="238.8">30</text>
<text x="442.9" y="240.0">27</text>
<text x="403.2" y="275.5">29</text>
<text x="614.7" y="168.0">11</text>
<text x="875.5" y="77.5">37</text>
<text x="844.2" y="117.5">16</text>
<text x="818.0" y="157.5">15</text>
<text x="798.0" y="187.5">36</text>
<text x="1120.2" y="98.8">18</text>
<text x="1098.0" y="203.8">33</text>
<text x="1153.0" y="241.2">32</text>
<text x="1144.2" y="270.0">34</text>
<text x="1164.2" y="318.5">21</text>
<text x="1153.0" y="342.0">16</text>
<text x="1144.2" y="363.5">36</text>
<text x="1138.0" y="386.0">15</text>
<text x="1124.2" y="419.5">2</text>
<text x="1104.2" y="455.0">8</text>
<text x="822.7" y="323.8">8</text>
<text x="842.7" y="355.0">2</text>
<text x="859.0" y="383.5">6</text>
<text x="161.7" y="431.0">37</text>
<text x="121.7" y="457.5">16</text>
<text x="84.2" y="481.2">21</text>
<text x="64.2" y="495.0">34</text>
<text x="45.5" y="510.0">33</text>
<text x="44.2" y="637.5">32</text>
<text x="61.7" y="657.5">15</text>
<text x="79.2" y="682.5">18</text>
<text x="101.7" y="707.5">8</text>
<text x="116.7" y="727.5">2</text>
<text x="174.2" y="803.8">3</text>
<text x="312.9" y="841.2">2</text>
<text x="341.7" y="841.2">8</text>
<text x="399.2" y="671.2">16</text>
<text x="397.9" y="707.5">15</text>
<text x="431.7" y="635.0">19</text>
<text x="431.7" y="705.0">25</text>
<text x="434.2" y="743.8">26</text>
<text x="432.9" y="777.5">20</text>
<text x="430.4" y="826.2">25</text>
<text x="431.2" y="857.0">26</text>
<text x="540.5" y="561.2">7</text>
<text x="675.5" y="477.5">5</text>
<text x="759.0" y="453.8">4</text>
<text x="615.5" y="456.2">11</text>
<text x="850.5" y="456.2">14</text>
<text x="895.5" y="452.5">9</text>
<text x="925.5" y="453.8">23</text>
<text x="958.0" y="451.2">24</text>
<text x="989.2" y="453.8">35</text>
<text x="1068.0" y="493.8">31</text>
<text x="1080.5" y="520.0">22</text>
<text x="1088.0" y="543.8">34</text>
<text x="1100.5" y="571.2">33</text>
<text x="1116.7" y="593.8">32</text>
<text x="1138.0" y="631.2">17</text>
<text x="634.2" y="867.5">28</text>
<text x="658.0" y="871.2">14</text>
<text x="749.2" y="858.0">1</text>
<text x="594.2" y="872.5" fill="#e00000">10</text>
</g>
</svg>
</body></html>
